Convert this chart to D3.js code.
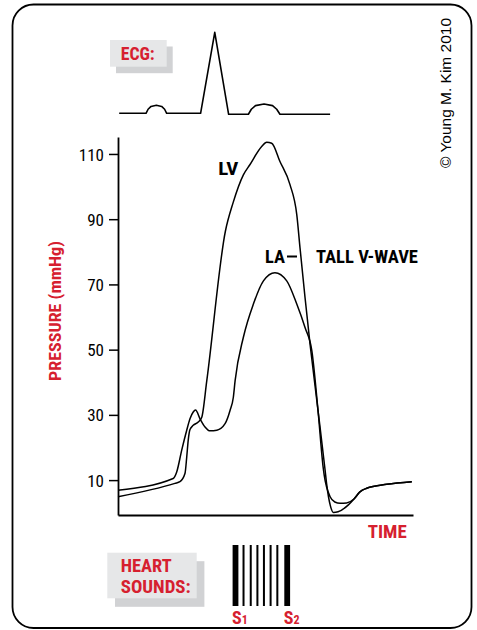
<!DOCTYPE html>
<html>
<head>
<meta charset="utf-8">
<script src="https://cdn.jsdelivr.net/npm/d3@7"></script>
<style>
  html, body { margin: 0; padding: 0; background: #ffffff; }
  svg { display: block; }
</style>
</head>
<body>
<script>
// ---------------- DATA ----------------
// Time axis (arbitrary units 0..100 across the pressure panel)
const laTime = [0, 18.7, 19.9, 21.6, 23.3, 24.4, 25.5, 26.3, 27.8, 29.5, 31.2, 33.5, 36.3, 38.0, 39.1, 39.7, 42.5, 45.9, 49.3, 53.2, 57.2, 60.6, 63.4, 65.7, 67.8, 69.6, 69.9, 71.9, 73.5, 75.3, 77.5, 80.0, 82.0, 84.3, 91.1, 99.6];
const laPressure = [6.9, 10.5, 12.5, 19.2, 25.3, 28.8, 30.9, 31.5, 28.8, 26.3, 25.1, 25.3, 27.3, 31.4, 35.4, 40.5, 53.8, 64.0, 71.1, 73.6, 71.1, 64.0, 56.8, 49.7, 31.4, 13.5, 11.5, 4.9, 3.3, 2.9, 3.0, 4.2, 6.4, 7.5, 8.7, 9.5];

const lvTime = [0, 19.3, 21.0, 22.7, 23.3, 23.8, 24.4, 25.5, 27.2, 28.4, 30.1, 36.4, 39.0, 42.5, 44.7, 48.7, 50.4, 52.1, 54.9, 58.3, 60.6, 61.7, 63.4, 65.1, 67.8, 70.2, 70.7, 72.0, 73.0, 74.6, 78.1, 80.0, 82.0, 84.3, 91.1, 99.6];
const lvPressure = [4.9, 9.0, 9.5, 12.0, 17.1, 22.2, 25.5, 26.8, 27.8, 29.3, 40.5, 86.3, 95.0, 103.6, 106.7, 112.3, 113.6, 113.3, 107.7, 100.6, 91.4, 81.2, 66.0, 51.7, 31.4, 13.1, 9.0, 2.1, 0.1, 0.3, 2.4, 4.2, 6.4, 7.5, 8.7, 9.5];

const ecgTime = [0.4, 9.5, 10.2, 11.2, 13.0, 14.8, 15.8, 16.5, 28.0, 32.8, 37.5, 44.2, 45.2, 46.6, 49.5, 52.4, 53.8, 54.9, 71.9];
const ecgAmp  = [0, 0, 0.05, 0.085, 0.1, 0.085, 0.05, 0, 0, 1.0, -0.012, -0.012, 0.05, 0.095, 0.115, 0.095, 0.05, -0.012, -0.012];

const yTicks = [10, 30, 50, 70, 90, 110];

const soundNames = ["S1", "m1", "m2", "m3", "m4", "m5", "m6", "S2"];
const soundPos   = [0, 1.18, 2.24, 3.22, 4.18, 5.16, 6.15, 7.6];
const soundThick = [true, false, false, false, false, false, false, true];

// ---------------- LAYOUT ----------------
const W = 477, H = 630;
const RED = "#d6202f";
const COND = "'Liberation Sans Narrow','Arial Narrow','Roboto Condensed','DejaVu Sans Condensed','Liberation Sans',sans-serif";
const REG = "'Liberation Sans',Arial,sans-serif";

const svg = d3.select("body").append("svg").attr("width", W).attr("height", H);

// Border
svg.append("rect")
  .attr("x", 12.5).attr("y", 4.5).attr("width", 459).attr("height", 623.5)
  .attr("rx", 21).attr("ry", 21)
  .attr("fill", "none").attr("stroke", "#000").attr("stroke-width", 1.8);

const x = d3.scaleLinear().domain([0, 100]).range([118, 413]);
const y = d3.scaleLinear().domain([-0.7, 115.2]).range([515, 137]);
const yEcg = d3.scaleLinear().domain([0, 1]).range([113.3, 32.3]);

// ---------------- ECG ----------------
function labelBox(x0, y0, w, h, dx, dy) {
  svg.append("rect").attr("x", x0 + dx).attr("y", y0 + dy).attr("width", w).attr("height", h).attr("fill", "#d1d2d4");
  svg.append("rect").attr("x", x0).attr("y", y0).attr("width", w).attr("height", h).attr("fill", "#e6e7e8");
}
labelBox(110, 40, 56.7, 26.7, 6, 6.5);
svg.append("text").attr("x", 120.7).attr("y", 59.5)
  .attr("font-family", COND).attr("font-weight", "bold").attr("font-size", 18)
  .attr("fill", RED).attr("textLength", 34).attr("lengthAdjust", "spacingAndGlyphs")
  .text("ECG:");

const ecgData = ecgTime.map((t, i) => [t, ecgAmp[i]]);
svg.append("path")
  .attr("d", d3.line().x(d => x(d[0])).y(d => yEcg(d[1])).curve(d3.curveLinear)(ecgData))
  .attr("fill", "none").attr("stroke", "#000").attr("stroke-width", 1.6)
  .attr("stroke-linejoin", "round");

// ---------------- AXES ----------------
const yAxis = svg.append("g").attr("transform", "translate(118,0)")
  .call(d3.axisLeft(y).tickValues(yTicks).tickSize(9).tickSizeOuter(0).tickPadding(5));
yAxis.select(".domain").attr("stroke-width", 1.8);
yAxis.selectAll(".tick line").attr("stroke-width", 1.5);
yAxis.selectAll(".tick text")
  .attr("font-family", COND).attr("font-size", 17).attr("fill", "#000")
  .attr("dy", "0.36em");

const xAxis = svg.append("g").attr("transform", "translate(0,515)")
  .call(d3.axisBottom(x).tickValues([]).tickSizeOuter(0));
xAxis.select(".domain").attr("stroke-width", 1.8);

// ---------------- CURVES ----------------
const line = d3.line().x(d => x(d[0])).y(d => y(d[1])).curve(d3.curveMonotoneX);
const laData = laTime.map((t, i) => [t, laPressure[i]]);
const lvData = lvTime.map((t, i) => [t, lvPressure[i]]);
svg.append("path").attr("d", line(laData))
  .attr("fill", "none").attr("stroke", "#000").attr("stroke-width", 1.5);
svg.append("path").attr("d", line(lvData))
  .attr("fill", "none").attr("stroke", "#000").attr("stroke-width", 1.5);

// Labels
function boldText(txt, xx, yy, len, col) {
  const t = svg.append("text").attr("x", xx).attr("y", yy)
    .attr("font-family", COND).attr("font-weight", "bold").attr("font-size", 18)
    .attr("fill", col || "#000").text(txt);
  if (len) t.attr("textLength", len).attr("lengthAdjust", "spacingAndGlyphs");
  return t;
}
boldText("LV", 218.3, 175, 20);
boldText("LA", 265, 263.3, 20);
svg.append("line").attr("x1", 287).attr("x2", 297).attr("y1", 256.5).attr("y2", 256.5)
  .attr("stroke", "#000").attr("stroke-width", 2);
boldText("TALL V-WAVE", 316, 263.3, 102);
boldText("TIME", 367.7, 538.3, 39, RED);

// Y axis title
svg.append("text")
  .attr("transform", "translate(61,311) rotate(-90)")
  .attr("text-anchor", "middle")
  .attr("font-family", COND).attr("font-weight", "bold").attr("font-size", 17)
  .attr("fill", RED).attr("textLength", 140).attr("lengthAdjust", "spacingAndGlyphs")
  .text("PRESSURE (mmHg)");

// Copyright
svg.append("text")
  .attr("transform", "translate(451,93) rotate(-90)")
  .attr("text-anchor", "middle")
  .attr("font-family", REG).attr("font-size", 15)
  .attr("fill", "#000").attr("textLength", 150).attr("lengthAdjust", "spacingAndGlyphs")
  .text("\u00A9 Young M. Kim 2010");

// ---------------- HEART SOUNDS ----------------
labelBox(107.3, 552.7, 89.4, 45.6, 7.7, 8.5);
boldText("HEART", 120.7, 571.7, 51, RED);
boldText("SOUNDS:", 120.7, 592.7, 70, RED);

const xs = d3.scaleLinear().domain([0, 7.6]).range([235.5, 287.2]);
svg.append("g").selectAll("rect")
  .data(soundPos.map((p, i) => ({ name: soundNames[i], pos: p, thick: soundThick[i] })))
  .join("rect")
  .attr("x", d => xs(d.pos) - (d.thick ? 2.9 : 1))
  .attr("width", d => d.thick ? 5.8 : 2)
  .attr("y", 545).attr("height", 61)
  .attr("fill", "#000");

["S1", "S2"].forEach((nm, k) => {
  const idx = soundNames.indexOf(nm);
  const t = svg.append("text").attr("x", xs(soundPos[idx]) - 3.5).attr("y", 623.5)
    .attr("font-family", COND).attr("font-weight", "bold").attr("fill", RED);
  t.append("tspan").attr("font-size", 18).text("S");
  t.append("tspan").attr("font-size", 12).text(nm.slice(1));
});
</script>
</body>
</html>
